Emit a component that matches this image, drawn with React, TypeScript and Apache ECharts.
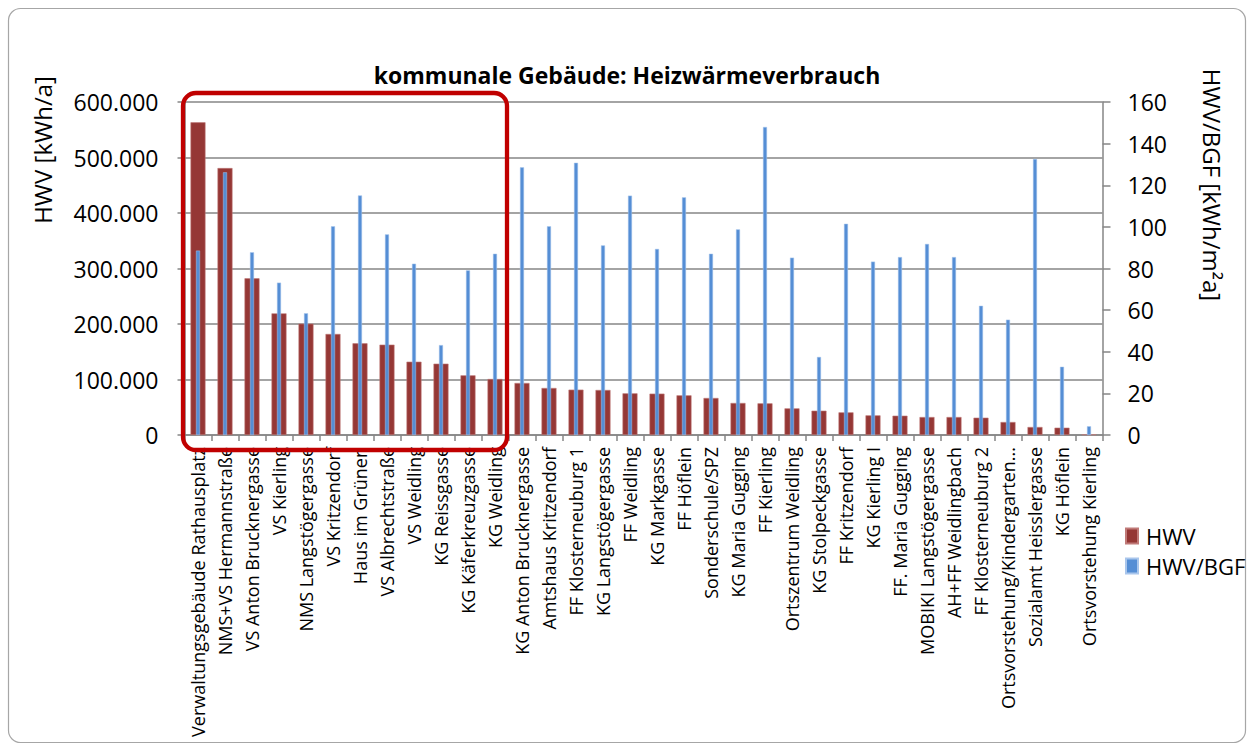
import React, { useEffect, useRef } from "react";
import * as echarts from "echarts";

const categories = [
  "Verwaltungsgebäude Rathausplatz",
  "NMS+VS Hermannstraße",
  "VS Anton Brucknergasse",
  "VS Kierling",
  "NMS Langstögergasse",
  "VS Kritzendorf",
  "Haus im Grünen",
  "VS Albrechtstraße",
  "VS Weidling",
  "KG Reissgasse",
  "KG Käferkreuzgasse",
  "KG Weidling",
  "KG Anton Brucknergasse",
  "Amtshaus Kritzendorf",
  "FF Klosterneuburg 1",
  "KG Langstögergasse",
  "FF Weidling",
  "KG Markgasse",
  "FF Höflein",
  "Sonderschule/SPZ",
  "KG Maria Gugging",
  "FF Kierling",
  "Ortszentrum Weidling",
  "KG Stolpeckgasse",
  "FF Kritzendorf",
  "KG Kierling I",
  "FF. Maria Gugging",
  "MOBIKI Langstögergasse",
  "AH+FF Weidlingbach",
  "FF Klosterneuburg 2",
  "Ortsvorstehung/Kindergarten...",
  "Sozialamt Heisslergasse",
  "KG Höflein",
  "Ortsvorstehung Kierling",
];

// HWV [kWh/a]
const hwv = [
  563400, 481000, 282300, 219200, 200600, 182000, 165200, 162800, 132100,
  128500, 107500, 100900, 93700, 84700, 81700, 81100, 75100, 74500, 71500,
  66700, 57700, 57100, 48000, 43800, 40800, 35400, 34800, 32400, 32400,
  31200, 23400, 14400, 13200, 1000,
];

// HWV/BGF [kWh/m²a]
const hwvBgf = [
  88.6, 126.2, 87.8, 73.2, 58.5, 100.3, 115.1, 96.4, 82.3, 43.2, 79.1, 87.1,
  128.6, 100.3, 130.8, 91.1, 115.0, 89.4, 114.2, 87.1, 98.8, 148.0, 85.2,
  37.5, 101.5, 83.3, 85.5, 91.8, 85.5, 62.1, 55.4, 132.6, 32.8, 4.2,
];

const leftTicks = [0, 100000, 200000, 300000, 400000, 500000, 600000];
const rightTicks = [0, 20, 40, 60, 80, 100, 120, 140, 160];

const title = "kommunale Gebäude: Heizwärmeverbrauch";
const leftName = "HWV [kWh/a]";
const rightName = "HWV/BGF [kWh/m²a]";
const seriesNames = ["HWV", "HWV/BGF"];

const FONT = "'Open Sans', 'DejaVu Sans', sans-serif";

function fmtDE(v: number): string {
  const s = Math.round(v).toString();
  return s.replace(/\B(?=(\d{3})+(?!\d))/g, ".");
}

export default function App() {
  const ref = useRef<HTMLDivElement>(null);

  useEffect(() => {
    if (!ref.current) return;
    const chart = echarts.init(ref.current, undefined, { renderer: "svg" });
    chart.setOption({
      animation: false,
      backgroundColor: "#ffffff",
      textStyle: { fontFamily: FONT },
      title: {
        text: title,
        left: "center",
        top: 58,
        textStyle: {
          fontFamily: FONT,
          fontSize: 23,
          fontWeight: "bold",
          color: "#000000",
        },
      },
      legend: {
        orient: "vertical",
        left: 1120,
        top: 519,
        itemWidth: 12,
        itemHeight: 15,
        itemGap: 6,
        icon: "rect",
        data: seriesNames,
        textStyle: {
          fontFamily: FONT,
          fontSize: 22,
          lineHeight: 24,
          color: "#000000",
          padding: [0, 0, 0, 3],
        },
      },
      grid: {
        left: 184.5,
        right: 151.5,
        top: 102,
        bottom: 316,
        containLabel: false,
      },
      xAxis: [
        {
          type: "category",
          data: categories,
          boundaryGap: true,
          axisLine: { show: true, lineStyle: { color: "#868686", width: 1.5 } },
          axisTick: {
            show: true,
            alignWithLabel: false,
            length: 6,
            lineStyle: { color: "#868686", width: 1.5 },
          },
          axisLabel: {
            interval: 0,
            rotate: 90,
            margin: 12,
            fontFamily: FONT,
            fontSize: 18,
            color: "#000000",
          },
        },
        {
          type: "category",
          data: categories,
          boundaryGap: true,
          show: false,
        },
      ],
      yAxis: [
        {
          type: "value",
          min: 0,
          max: 600000,
          interval: 100000,
          position: "left",
          axisLine: { show: true, lineStyle: { color: "#868686", width: 1.5 } },
          axisTick: {
            show: true,
            length: 7,
            lineStyle: { color: "#868686", width: 1.5 },
          },
          axisLabel: {
            margin: 26,
            fontFamily: FONT,
            fontSize: 23,
            color: "#000000",
            formatter: (v: number) => (leftTicks.includes(v) ? fmtDE(v) : ""),
          },
          splitLine: { show: true, lineStyle: { color: "#868686", width: 1.5 } },
        },
        {
          type: "value",
          min: 0,
          max: 160,
          interval: 20,
          position: "right",
          axisLine: { show: true, lineStyle: { color: "#868686", width: 1.5 } },
          axisTick: {
            show: true,
            length: 8,
            lineStyle: { color: "#868686", width: 1.5 },
          },
          axisLabel: {
            margin: 25,
            fontFamily: FONT,
            fontSize: 23,
            color: "#000000",
            formatter: (v: number) => (rightTicks.includes(v) ? String(v) : ""),
          },
          splitLine: { show: false },
        },
      ],
      series: [
        {
          name: seriesNames[0],
          type: "bar",
          xAxisIndex: 0,
          yAxisIndex: 0,
          barWidth: 15,
          data: hwv,
          itemStyle: {
            color: "#953735",
            borderColor: "#c07a78",
            borderWidth: 0.6,
          },
        },
        {
          name: seriesNames[1],
          type: "bar",
          xAxisIndex: 1,
          yAxisIndex: 1,
          barWidth: 4,
          data: hwvBgf,
          itemStyle: {
            color: "#558ED5",
            borderColor: "#a9c6ec",
            borderWidth: 0.5,
          },
        },
      ],
      graphic: [
        {
          type: "rect",
          z: -10,
          silent: true,
          shape: { x: 8.5, y: 8.5, width: 1237, height: 734, r: 12 },
          style: { fill: "#ffffff", stroke: "#a6a6a6", lineWidth: 1.2 },
        },
        {
          type: "rect",
          z: 100,
          silent: true,
          shape: { x: 183, y: 93, width: 324, height: 357, r: 13 },
          style: { fill: "none", stroke: "#C00000", lineWidth: 4.3 },
        },
        {
          type: "text",
          x: 42,
          y: 150,
          rotation: Math.PI / 2,
          style: {
            text: leftName,
            fontFamily: FONT,
            fontSize: 24,
            fill: "#000000",
            align: "center",
            verticalAlign: "middle",
          },
        },
        {
          type: "text",
          x: 1212,
          y: 185,
          rotation: -Math.PI / 2,
          style: {
            text: rightName,
            fontFamily: FONT,
            fontSize: 24,
            fill: "#000000",
            align: "center",
            verticalAlign: "middle",
          },
        },
      ],
    });
    return () => chart.dispose();
  }, []);

  return (
    <div
      ref={ref}
      style={{
        position: "fixed",
        left: 0,
        top: 0,
        width: 1254,
        height: 751,
      }}
    />
  );
}
